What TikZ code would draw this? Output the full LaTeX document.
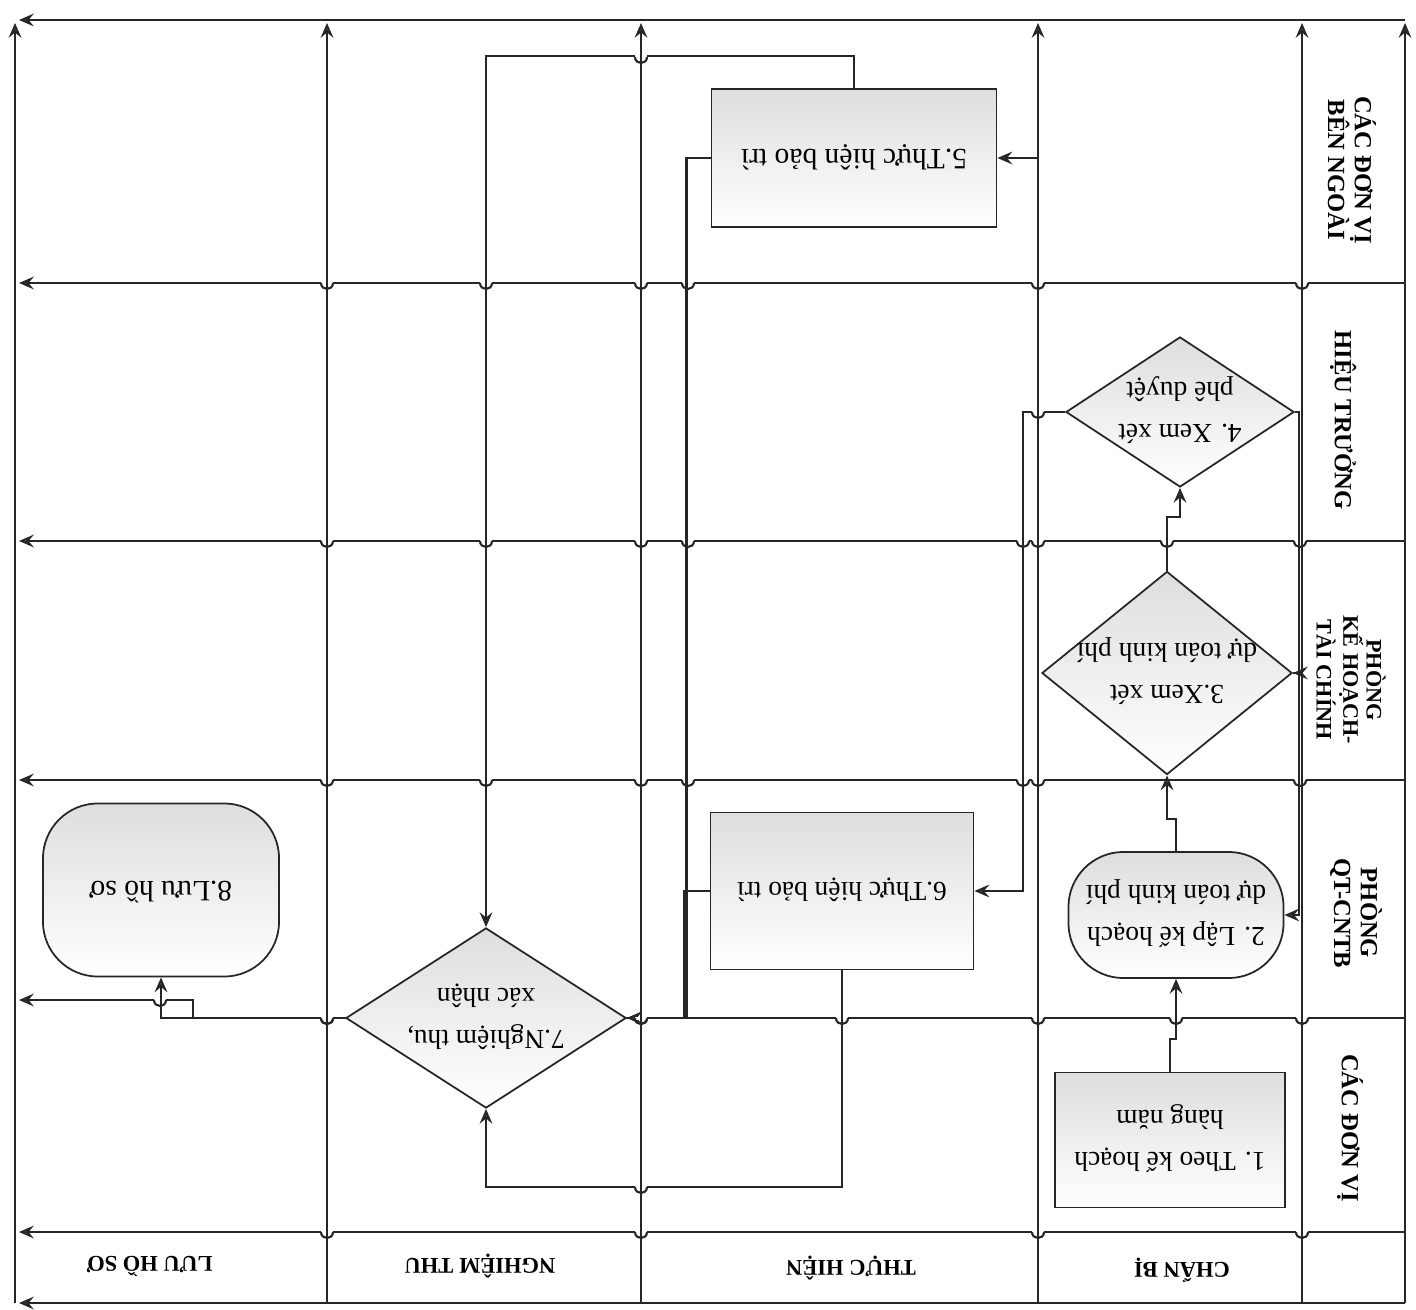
\documentclass[tikz,border=0pt]{standalone}
\usepackage{fontspec}
\setmainfont{Liberation Serif}
\usepackage{graphicx}
\usetikzlibrary{arrows.meta,shapes.geometric}
\pgfdeclarelayer{bg}
\pgfsetlayers{bg,main}
\newcommand{\ud}[1]{\rotatebox[origin=c]{180}{\begin{tabular}{@{}c@{}}#1\end{tabular}}}
\newcommand{\hop}[2]{%
  \fill[white] ({#1-6},{#2-1.5}) rectangle ({#1+6},{#2+1.5});
  \draw[lane] ({#1-6},{#2}) .. controls ({#1-6},{#2+8}) and ({#1+6},{#2+8}) .. ({#1+6},{#2});}
\tikzset{
  lane/.style={line width=0.6pt, draw=black!85},
  tipx/.tip={Stealth[length=4.2pt,width=3.6pt,inset=1.5pt,fill=black!40]},
  lanearr/.style={lane, -tipx},
  conn/.style={line width=0.6pt, draw=black!85, -tipx},
  stepbox/.style={draw=black!85, line width=0.5pt, top color=black!13, bottom color=white,
    inner sep=0pt, font=\fontsize{7.8}{12}\selectfont},
  roundbox/.style={stepbox, rounded corners=0.55cm},
  decision/.style={stepbox, diamond},
  txt/.style={inner sep=0pt, font=\fontsize{7.8}{12}\selectfont},
  rowlbl/.style={font=\bfseries\fontsize{7}{7.6}\selectfont, align=center, rotate=-90, inner sep=0pt},
  collbl/.style={font=\bfseries\fontsize{6.4}{7}\selectfont, rotate=180, inner sep=0pt},
}
\begin{document}
\begin{tikzpicture}[x=0.01cm,y=-0.01cm]
\useasboundingbox (0,0) rectangle (1416,1310);

% ---- shapes ----
\node[stepbox, minimum width=2.30cm, minimum height=1.35cm] (b1) at (1170,1140) {\ud{1. Theo kế hoạch\\hàng năm}};
\node[roundbox, minimum width=2.15cm, minimum height=1.26cm] (b2) at (1176,915) {\ud{2. Lập kế hoạch\\dự toán kinh phí}};
\node[decision, minimum width=2.50cm, minimum height=2.03cm] (d3) at (1167,673) {};
\node[txt] (d3t) at (d3) {\ud{3.Xem xét\\dự toán kinh phí}};
\node[decision, minimum width=2.28cm, minimum height=1.50cm] (d4) at (1180,412) {};
\node[txt] (d4t) at (d4) {\ud{4. Xem xét\\phê duyệt}};
\node[stepbox, minimum width=2.85cm, minimum height=1.38cm, font=\fontsize{8.4}{12}\selectfont] (b5) at (854,158) {\ud{5.Thực hiện bảo trì}};
\node[stepbox, minimum width=2.63cm, minimum height=1.57cm] (b6) at (842,891) {\ud{6.Thực hiện bảo trì}};
\node[decision, minimum width=2.80cm, minimum height=1.80cm] (d7) at (486,1018) {};
\node[txt] (d7t) at (d7) {\ud{7.Nghiệm thu,\\xác nhận}};
\node[roundbox, minimum width=2.36cm, minimum height=1.73cm, font=\fontsize{8.4}{12}\selectfont] (b8) at (161,890) {\ud{8.Lưu hồ sơ}};

% ---- lane labels ----
\node[rowlbl] (r1) at (1352,170) {CÁC ĐƠN VỊ\\BÊN NGOÀI};
\node[rowlbl] (r2) at (1343,420) {HIỆU TRƯỞNG};
\node[rowlbl, font=\bfseries\fontsize{6.3}{6.6}\selectfont] (r3) at (1351,680) {PHÒNG\\KẾ HOẠCH-\\TÀI CHÍNH};
\node[rowlbl] (r4) at (1356,913) {PHÒNG\\QT-CNTB};
\node[rowlbl] (r5) at (1350,1128) {CÁC ĐƠN VỊ};
\node[collbl] (c1) at (150,1266) {LƯU HỒ SƠ};
\node[collbl] (c2) at (480,1266) {NGHIỆM THU};
\node[collbl] (c3) at (851,1268) {THỰC HIỆN};
\node[collbl] (c4) at (1182,1270) {CHẨN BỊ};

\begin{pgfonlayer}{bg}
\fill[white] (0,0) rectangle (1416,1310);
% horizontal lane lines
\foreach \yy in {20,283,541,780,1232,1303} \draw[lanearr] (1405,\yy) -- (19,\yy);
\draw[lanearr] (1405,1018) -- (193,1018) -- (193,1000) -- (19,1000);
% hops on lane lines
\foreach \xx/\yy in {327/283, 486/283, 641/283, 688/283, 1038/283, 1302/283,
  327/541, 486/541, 641/541, 688/541, 1023/541, 1038/541, 1167/541, 1300/541,
  327/780, 486/780, 641/780, 688/780, 1023/780, 1038/780, 1300/780,
  160/1000, 327/1018, 641/1018, 842/1018, 1038/1018, 1176/1018, 1302/1018,
  327/1232, 641/1232, 1038/1232, 1302/1232} {\hop{\xx}{\yy}}
% connectors
\draw[conn] (b1.north) -- ++(0,-33) -| (b2.south);
\draw[conn] (b2.north) -- ++(0,-32) -| (d3.south);
\draw[conn] (d3.north) -- ++(0,-54) -| (d4.south);
\draw[conn] (d4.east) -- ++(4,0) |- (d3.east);
\draw[conn] (d3.east) -- ++(6,0) |- (b2.east);
\draw[conn] (d4.west) -- ++(-27,0) |- (b5.east);
\draw[conn] (d4.west) -- ++(-42,0) |- (b6.east);
\draw[conn] (b5.north) -- ++(0,-32) -| (d7.north);
\draw[conn] (b5.west) -- ++(-24,0) |- (d7.east);
\draw[conn] (b6.west) -- ++(-26,0) |- (d7.east);
\draw[conn] (b6.south) -- ++(0,217) -| (d7.south);
\draw[conn] (d7.west) -| (b8.south);
% hops on connector lines
\foreach \xx/\yy in {641/57, 1038/412, 641/1018, 327/1018, 641/1187} {\hop{\xx}{\yy}}
% vertical lane lines
\foreach \xx in {15,327,641,1038,1302,1405} \draw[lanearr] (\xx,1303) -- (\xx,23);
\end{pgfonlayer}
\end{tikzpicture}
\end{document}
